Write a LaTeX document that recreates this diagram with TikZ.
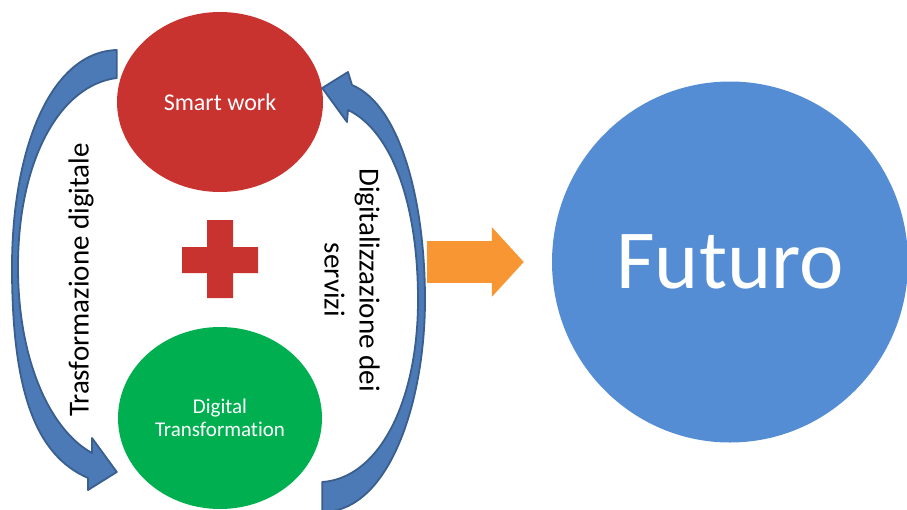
\documentclass[tikz,border=0pt]{standalone}
\usepackage{fontspec}
\setmainfont[Ligatures=NoCommon]{Carlito}
\usepackage{tikz}
\usetikzlibrary{arrows.meta,calc,positioning,shapes.geometric}
\usepackage{xcolor}
\definecolor{rosso}{RGB}{200,50,47}
\definecolor{verde}{RGB}{0,176,80}
\definecolor{azzurro}{RGB}{85,141,213}
\definecolor{blufreccia}{RGB}{76,122,182}
\definecolor{blubordo}{RGB}{58,95,142}
\definecolor{arancio}{RGB}{247,150,50}

\begin{document}
\begin{tikzpicture}[x=1pt, y=-1pt,
  cerchio/.style={ellipse, inner sep=0pt, text=white, align=center},
  freccia/.style={fill=blufreccia, draw=blubordo, line width=1.8pt, line join=round}]
\useasboundingbox (0,0) rectangle (907,509);
% i due cerchi a sinistra
\node[cerchio, fill=rosso, minimum width=206pt, minimum height=180pt,
  font=\fontsize{24}{28}\selectfont] (smart) at (220,102) {Smart work};
\node[cerchio, fill=verde, minimum width=204pt, minimum height=182pt,
  font=\fontsize{21}{23}\selectfont] (digital) at (220,418) {Digital\\Transformation};
% segno piu
\fill[rosso] (207,220) rectangle (233,298) (182,247) rectangle (258,273);
% cerchio finale
\node[cerchio, fill=azzurro, minimum width=356pt, minimum height=361pt,
  font=\fontsize{84}{90}\selectfont] (futuro) at (730,262) {Futuro};
% freccia curva a sinistra
\draw[freccia] ($(smart.west)+(0,-52)$) .. controls (50,52) and (12,150) .. (12,267)
  .. controls (12,390) and (35,455) .. (88,478) -- (88,490)
  -- ($(digital.west)+(-1,54)$) -- (92,438) -- (92,453)
  .. controls (50,430) and (18,360) .. (18,267)
  .. controls (18,160) and (60,85) .. ($(smart.west)+(0,-24)$) -- cycle;
% freccia curva a destra
\draw[freccia] ($(digital.east)+(0,64)$) .. controls (380,478) and (418,400) .. (418,300)
  .. controls (418,200) and (390,130) .. (348,110) -- (347,122)
  -- ($(smart.east)+(-1,-14)$) -- (348,72) -- (352,85)
  .. controls (400,105) and (425,200) .. (425,300)
  .. controls (425,400) and (390,512) .. ($(digital.east)+(0,94)$) -- cycle;
% etichette
\node[rotate=90, font=\fontsize{29}{35}\selectfont] (trasf) at (81,280) {Trasformazione digitale};
\node[rotate=-90, align=center, font=\fontsize{29}{35}\selectfont] (servizi) at (352,280)
  {Digitalizzazione dei\\servizi};
% freccia arancio
\coordinate (origine) at (427,262);
\draw[arancio, line width=42pt, -{Triangle[length=32pt, width=68pt]}]
  (origine) -- ([xshift=-28pt]futuro.west);
\end{tikzpicture}
\end{document}
